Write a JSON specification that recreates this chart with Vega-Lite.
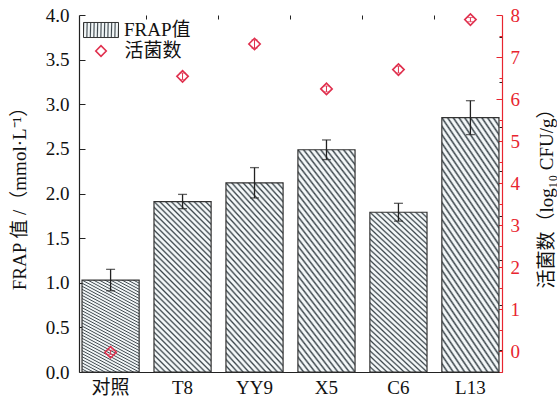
{
  "$schema": "https://vega.github.io/schema/vega-lite/v6.json",
  "width": 423,
  "height": 357,
  "autosize": "none",
  "padding": {"left": 79, "top": 15, "right": 55, "bottom": 27},
  "background": "white",
  "config": {
    "view": {"stroke": null},
    "font": "Liberation Serif, Times New Roman, Noto Sans CJK SC",
    "axis": {"labelFont": "Liberation Serif, Noto Sans CJK SC", "titleFont": "Liberation Serif, Noto Sans CJK SC", "grid": false, "titleFontWeight": "normal"},
    "legend": {"labelFont": "Liberation Serif, Noto Sans CJK SC"}
  },
  "data": {
    "values": [
      {"group": "对照", "frap": 1.03, "frap_err": 0.12, "cfu": -0.03, "cfu_err": 0.05},
      {"group": "T8", "frap": 1.91, "frap_err": 0.08, "cfu": 6.54, "cfu_err": 0.08},
      {"group": "YY9", "frap": 2.12, "frap_err": 0.17, "cfu": 7.31, "cfu_err": 0.1},
      {"group": "X5", "frap": 2.49, "frap_err": 0.11, "cfu": 6.24, "cfu_err": 0.07},
      {"group": "C6", "frap": 1.79, "frap_err": 0.1, "cfu": 6.7, "cfu_err": 0.08},
      {"group": "L13", "frap": 2.85, "frap_err": 0.19, "cfu": 7.89, "cfu_err": 0.05}
    ]
  },
  "resolve": {"scale": {"y": "independent"}, "axis": {"x": "independent", "y": "independent"}},
  "layer": [
    {
      "mark": {
        "type": "bar",
        "strokeWidth": 1.2,
        "fill": {
          "gradient": "linear", "x1": -0.3, "y1": 0.9, "x2": 0.1, "y2": -0.3,
          "stops": [
            {"offset": 0, "color": "#3c464c"}, {"offset": 0.008, "color": "#f3f7f8"}, {"offset": 0.017, "color": "#f3f7f8"},
            {"offset": 0.025, "color": "#3c464c"}, {"offset": 0.033, "color": "#f3f7f8"}, {"offset": 0.042, "color": "#f3f7f8"},
            {"offset": 0.05, "color": "#3c464c"}, {"offset": 0.058, "color": "#f3f7f8"}, {"offset": 0.067, "color": "#f3f7f8"},
            {"offset": 0.075, "color": "#3c464c"}, {"offset": 0.083, "color": "#f3f7f8"}, {"offset": 0.092, "color": "#f3f7f8"},
            {"offset": 0.1, "color": "#3c464c"}, {"offset": 0.108, "color": "#f3f7f8"}, {"offset": 0.117, "color": "#f3f7f8"},
            {"offset": 0.125, "color": "#3c464c"}, {"offset": 0.133, "color": "#f3f7f8"}, {"offset": 0.142, "color": "#f3f7f8"},
            {"offset": 0.15, "color": "#3c464c"}, {"offset": 0.158, "color": "#f3f7f8"}, {"offset": 0.167, "color": "#f3f7f8"},
            {"offset": 0.175, "color": "#3c464c"}, {"offset": 0.183, "color": "#f3f7f8"}, {"offset": 0.192, "color": "#f3f7f8"},
            {"offset": 0.2, "color": "#3c464c"}, {"offset": 0.208, "color": "#f3f7f8"}, {"offset": 0.217, "color": "#f3f7f8"},
            {"offset": 0.225, "color": "#3c464c"}, {"offset": 0.233, "color": "#f3f7f8"}, {"offset": 0.242, "color": "#f3f7f8"},
            {"offset": 0.25, "color": "#3c464c"}, {"offset": 0.258, "color": "#f3f7f8"}, {"offset": 0.267, "color": "#f3f7f8"},
            {"offset": 0.275, "color": "#3c464c"}, {"offset": 0.283, "color": "#f3f7f8"}, {"offset": 0.292, "color": "#f3f7f8"},
            {"offset": 0.3, "color": "#3c464c"}, {"offset": 0.308, "color": "#f3f7f8"}, {"offset": 0.317, "color": "#f3f7f8"},
            {"offset": 0.325, "color": "#3c464c"}, {"offset": 0.333, "color": "#f3f7f8"}, {"offset": 0.342, "color": "#f3f7f8"},
            {"offset": 0.35, "color": "#3c464c"}, {"offset": 0.358, "color": "#f3f7f8"}, {"offset": 0.367, "color": "#f3f7f8"},
            {"offset": 0.375, "color": "#3c464c"}, {"offset": 0.383, "color": "#f3f7f8"}, {"offset": 0.392, "color": "#f3f7f8"},
            {"offset": 0.4, "color": "#3c464c"}, {"offset": 0.408, "color": "#f3f7f8"}, {"offset": 0.417, "color": "#f3f7f8"},
            {"offset": 0.425, "color": "#3c464c"}, {"offset": 0.433, "color": "#f3f7f8"}, {"offset": 0.442, "color": "#f3f7f8"},
            {"offset": 0.45, "color": "#3c464c"}, {"offset": 0.458, "color": "#f3f7f8"}, {"offset": 0.467, "color": "#f3f7f8"},
            {"offset": 0.475, "color": "#3c464c"}, {"offset": 0.483, "color": "#f3f7f8"}, {"offset": 0.492, "color": "#f3f7f8"},
            {"offset": 0.5, "color": "#3c464c"}, {"offset": 0.508, "color": "#f3f7f8"}, {"offset": 0.517, "color": "#f3f7f8"},
            {"offset": 0.525, "color": "#3c464c"}, {"offset": 0.533, "color": "#f3f7f8"}, {"offset": 0.542, "color": "#f3f7f8"},
            {"offset": 0.55, "color": "#3c464c"}, {"offset": 0.558, "color": "#f3f7f8"}, {"offset": 0.567, "color": "#f3f7f8"},
            {"offset": 0.575, "color": "#3c464c"}, {"offset": 0.583, "color": "#f3f7f8"}, {"offset": 0.592, "color": "#f3f7f8"},
            {"offset": 0.6, "color": "#3c464c"}, {"offset": 0.608, "color": "#f3f7f8"}, {"offset": 0.617, "color": "#f3f7f8"},
            {"offset": 0.625, "color": "#3c464c"}, {"offset": 0.633, "color": "#f3f7f8"}, {"offset": 0.642, "color": "#f3f7f8"},
            {"offset": 0.65, "color": "#3c464c"}, {"offset": 0.658, "color": "#f3f7f8"}, {"offset": 0.667, "color": "#f3f7f8"},
            {"offset": 0.675, "color": "#3c464c"}, {"offset": 0.683, "color": "#f3f7f8"}, {"offset": 0.692, "color": "#f3f7f8"},
            {"offset": 0.7, "color": "#3c464c"}, {"offset": 0.708, "color": "#f3f7f8"}, {"offset": 0.717, "color": "#f3f7f8"},
            {"offset": 0.725, "color": "#3c464c"}, {"offset": 0.733, "color": "#f3f7f8"}, {"offset": 0.742, "color": "#f3f7f8"},
            {"offset": 0.75, "color": "#3c464c"}, {"offset": 0.758, "color": "#f3f7f8"}, {"offset": 0.767, "color": "#f3f7f8"},
            {"offset": 0.775, "color": "#3c464c"}, {"offset": 0.783, "color": "#f3f7f8"}, {"offset": 0.792, "color": "#f3f7f8"},
            {"offset": 0.8, "color": "#3c464c"}, {"offset": 0.808, "color": "#f3f7f8"}, {"offset": 0.817, "color": "#f3f7f8"},
            {"offset": 0.825, "color": "#3c464c"}, {"offset": 0.833, "color": "#f3f7f8"}, {"offset": 0.842, "color": "#f3f7f8"},
            {"offset": 0.85, "color": "#3c464c"}, {"offset": 0.858, "color": "#f3f7f8"}, {"offset": 0.867, "color": "#f3f7f8"},
            {"offset": 0.875, "color": "#3c464c"}, {"offset": 0.883, "color": "#f3f7f8"}, {"offset": 0.892, "color": "#f3f7f8"},
            {"offset": 0.9, "color": "#3c464c"}, {"offset": 0.908, "color": "#f3f7f8"}, {"offset": 0.917, "color": "#f3f7f8"},
            {"offset": 0.925, "color": "#3c464c"}, {"offset": 0.933, "color": "#f3f7f8"}, {"offset": 0.942, "color": "#f3f7f8"},
            {"offset": 0.95, "color": "#3c464c"}, {"offset": 0.958, "color": "#f3f7f8"}, {"offset": 0.967, "color": "#f3f7f8"},
            {"offset": 0.975, "color": "#3c464c"}, {"offset": 0.983, "color": "#f3f7f8"}, {"offset": 0.992, "color": "#f3f7f8"},
            {"offset": 1, "color": "#3c464c"}
          ]
        }
      },
      "encoding": {
        "x": {
          "field": "group", "type": "nominal", "sort": null,
          "scale": {"paddingInner": 0.206, "paddingOuter": 0.042},
          "axis": {"title": null, "labelAngle": 0, "labelFontSize": 19, "labelColor": "#111", "tickSize": -5, "tickColor": "#222", "labelPadding": 11, "domainColor": "#222", "domainWidth": 1.2}
        },
        "y": {
          "field": "frap", "type": "quantitative",
          "scale": {"domain": [0, 4], "nice": false},
          "axis": {"title": "FRAP 值 /（mmol·L⁻¹）", "titleFontSize": 19, "titleColor": "#111", "titlePadding": 16, "values": [0, 0.5, 1, 1.5, 2, 2.5, 3, 3.5, 4], "format": ".1f", "labelFontSize": 19, "labelColor": "#111", "tickSize": -6, "tickColor": "#222", "labelPadding": 16, "domainColor": "#222", "domainWidth": 1.2}
        },
        "stroke": {
          "datum": "FRAP值", "scale": {"range": ["#333333"]},
          "legend": {
            "orient": "none", "legendX": 4, "legendY": -3, "title": null, "padding": 0,
            "symbolType": "M-1,-0.43H1V0.43H-1Z", "symbolSize": 1225, "symbolStrokeWidth": 1,
            "labelFontSize": 19, "labelColor": "#111", "labelOffset": 5,
            "encode": {"symbols": {"update": {"fill": {"value": {
              "gradient": "linear", "x1": -0.363, "y1": 0.156, "x2": 0.844, "y2": -0.363,
              "stops": [
                {"offset": 0, "color": "#3c464c"}, {"offset": 0.04, "color": "#f3f7f8"}, {"offset": 0.085, "color": "#f3f7f8"},
                {"offset": 0.125, "color": "#3c464c"}, {"offset": 0.165, "color": "#f3f7f8"}, {"offset": 0.21, "color": "#f3f7f8"},
                {"offset": 0.25, "color": "#3c464c"}, {"offset": 0.29, "color": "#f3f7f8"}, {"offset": 0.335, "color": "#f3f7f8"},
                {"offset": 0.375, "color": "#3c464c"}, {"offset": 0.415, "color": "#f3f7f8"}, {"offset": 0.46, "color": "#f3f7f8"},
                {"offset": 0.5, "color": "#3c464c"}, {"offset": 0.54, "color": "#f3f7f8"}, {"offset": 0.585, "color": "#f3f7f8"},
                {"offset": 0.625, "color": "#3c464c"}, {"offset": 0.665, "color": "#f3f7f8"}, {"offset": 0.71, "color": "#f3f7f8"},
                {"offset": 0.75, "color": "#3c464c"}, {"offset": 0.79, "color": "#f3f7f8"}, {"offset": 0.835, "color": "#f3f7f8"},
                {"offset": 0.875, "color": "#3c464c"}, {"offset": 0.915, "color": "#f3f7f8"}, {"offset": 0.96, "color": "#f3f7f8"},
                {"offset": 1, "color": "#3c464c"}
              ]
            }}}}}
          }
        }
      }
    },
    {
      "mark": {"type": "errorbar", "ticks": {"size": 9, "thickness": 1.3}, "color": "#222", "thickness": 1.3},
      "encoding": {
        "x": {
          "field": "group", "type": "nominal", "sort": null,
          "axis": {"title": null, "labels": false, "domain": false, "values": ["对照", "T8", "YY9", "X5", "C6"], "bandPosition": 1, "tickOffset": 7, "tickSize": -4, "tickColor": "#222"}
        },
        "y": {
          "field": "frap", "type": "quantitative",
          "scale": {"domain": [0, 4], "nice": false},
          "axis": {"title": null, "labels": false, "domain": false, "values": [0.25, 0.75, 1.25, 1.75, 2.25, 2.75, 3.25, 3.75], "tickSize": -3, "tickColor": "#222"}
        },
        "yError": {"field": "frap_err"}
      }
    },
    {
      "mark": {"type": "point", "filled": false, "stroke": "#e0304e", "strokeWidth": 1.6, "size": 130, "opacity": 1},
      "encoding": {
        "x": {"field": "group", "type": "nominal", "sort": null, "axis": null},
        "y": {
          "field": "cfu", "type": "quantitative",
          "scale": {"domain": [-0.5, 8], "nice": false, "zero": false},
          "axis": {"orient": "right", "title": "活菌数（log₁₀ CFU/g）", "titleAngle": -90, "titleFontSize": 19, "titleColor": "#111", "titlePadding": 37, "values": [0, 1, 2, 3, 4, 5, 6, 7, 8], "labelFontSize": 19, "labelColor": "#e8252f", "tickSize": -6, "tickColor": "#e8252f", "labelPadding": 14, "domainColor": "#e8252f", "domainWidth": 1.2}
        },
        "shape": {
          "datum": "活菌数", "scale": {"range": ["diamond"]},
          "legend": {"orient": "none", "legendX": 12.5, "legendY": 26.5, "title": null, "padding": 0, "symbolSize": 110, "symbolStrokeColor": "#e0304e", "symbolFillColor": "white", "symbolStrokeWidth": 1.6, "labelFontSize": 19, "labelColor": "#111", "labelOffset": 14}
        }
      }
    },
    {
      "mark": {"type": "errorbar", "ticks": {"size": 6, "thickness": 1}, "color": "#e0304e", "thickness": 1},
      "encoding": {
        "x": {"field": "group", "type": "nominal", "sort": null, "axis": null},
        "y": {
          "field": "cfu", "type": "quantitative",
          "scale": {"domain": [-0.5, 8], "nice": false, "zero": false},
          "axis": {"orient": "right", "title": null, "labels": false, "domain": false, "values": [-0.5, 0.5, 1.5, 2.5, 3.5, 4.5, 5.5, 6.5, 7.5], "tickSize": -3, "tickColor": "#e8252f"}
        },
        "yError": {"field": "cfu_err"}
      }
    }
  ]
}
